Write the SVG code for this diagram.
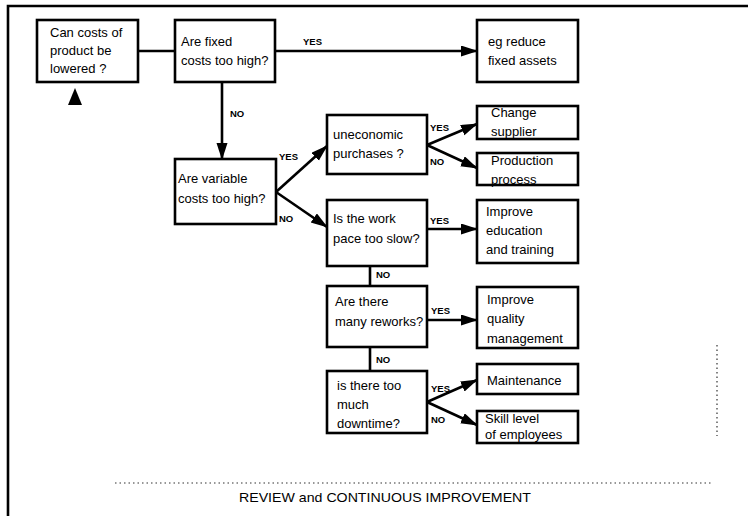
<svg xmlns="http://www.w3.org/2000/svg" width="748" height="516" viewBox="0 0 748 516">
  <style>
    .box { fill: #fff; stroke: #000; stroke-width: 2.6; }
    .t { font-family: "Liberation Sans", "DejaVu Sans", sans-serif; font-size: 13px; fill: #000; }
    .lbl { font-family: "Liberation Sans", "DejaVu Sans", sans-serif; font-size: 9.5px; font-weight: bold; fill: #000; }
    .ln { fill: none; stroke: #000; stroke-width: 2.6; }
    .arr { fill: none; stroke: #000; stroke-width: 2.6; marker-end: url(#head); }
    .dots { fill: none; stroke: #333; stroke-width: 1.2; stroke-dasharray: 1.5 3; }
    .title { font-family: "Liberation Sans", "DejaVu Sans", sans-serif; font-size: 13.5px; fill: #000; }
  </style>
  <defs>
    <marker id="head" markerUnits="userSpaceOnUse" markerWidth="18" markerHeight="12" refX="16" refY="5.5" orient="auto">
      <path d="M0,0 L17,5.5 L0,11 z" fill="#000"/>
    </marker>
  </defs>
  <rect width="748" height="516" fill="#fff"/>

  <!-- outer frame and faded review line -->
  <g id="frame">
    <path class="ln" d="M8,516 L8,6 L748,6"/>
    <path class="dots" d="M115,483 L712,483"/>
    <path class="dots" d="M717,345 L717,436"/>
  </g>

  <!-- connectors and their YES / NO labels -->
  <g id="connectors">
    <path class="ln" d="M138,51 L175,51"/>
    <path class="arr" d="M275,51 L477,51"/>
    <path class="arr" d="M222,82 L222,159"/>
    <path class="arr" d="M276,192 L327,146"/>
    <path class="arr" d="M276,192 L327,227"/>
    <path class="arr" d="M427,145 L477,124"/>
    <path class="arr" d="M427,145 L477,168"/>
    <path class="arr" d="M427,229 L477,229"/>
    <path class="ln" d="M370,266 L370,286"/>
    <path class="arr" d="M427,320 L477,320"/>
    <path class="ln" d="M370,347 L370,371"/>
    <path class="arr" d="M427,402 L477,380"/>
    <path class="arr" d="M427,402 L477,425"/>
    <path d="M75,88 L82,105 L68,105 z" fill="#000"/>
    <text class="lbl" x="303" y="45">YES</text>
    <text class="lbl" x="230" y="117">NO</text>
    <text class="lbl" x="279" y="160">YES</text>
    <text class="lbl" x="279" y="222">NO</text>
    <text class="lbl" x="430" y="131">YES</text>
    <text class="lbl" x="430" y="165">NO</text>
    <text class="lbl" x="430" y="224">YES</text>
    <text class="lbl" x="376" y="278">NO</text>
    <text class="lbl" x="431" y="314">YES</text>
    <text class="lbl" x="376" y="363">NO</text>
    <text class="lbl" x="431" y="392">YES</text>
    <text class="lbl" x="431" y="423">NO</text>
  </g>

  <g id="n-lowered">
    <rect class="box" x="37" y="20" width="101" height="62"/>
    <text class="t" x="50" y="37">Can costs of</text>
    <text class="t" x="50" y="55">product be</text>
    <text class="t" x="50" y="73">lowered ?</text>
  </g>
  <g id="n-fixed">
    <rect class="box" x="175" y="20" width="100" height="62"/>
    <text class="t" x="181" y="46">Are fixed</text>
    <text class="t" x="181" y="65">costs too high?</text>
  </g>
  <g id="n-assets">
    <rect class="box" x="477" y="20" width="101" height="62"/>
    <text class="t" x="488" y="46">eg reduce</text>
    <text class="t" x="488" y="65">fixed assets</text>
  </g>
  <g id="n-variable">
    <rect class="box" x="175" y="159" width="101" height="65"/>
    <text class="t" x="178" y="183">Are variable</text>
    <text class="t" x="178" y="203">costs too high?</text>
  </g>
  <g id="n-purchases">
    <rect class="box" x="327" y="115" width="100" height="59"/>
    <text class="t" x="333" y="139">uneconomic</text>
    <text class="t" x="333" y="158">purchases ?</text>
  </g>
  <g id="n-pace">
    <rect class="box" x="327" y="200" width="100" height="66"/>
    <text class="t" x="333" y="223">Is the work</text>
    <text class="t" x="333" y="243">pace too slow?</text>
  </g>
  <g id="n-supplier">
    <rect class="box" x="477" y="106" width="101" height="33"/>
    <text class="t" x="491" y="117">Change</text>
    <text class="t" x="491" y="136">supplier</text>
  </g>
  <g id="n-process">
    <rect class="box" x="477" y="153" width="101" height="32"/>
    <text class="t" x="491" y="165">Production</text>
    <text class="t" x="491" y="184">process</text>
  </g>
  <g id="n-training">
    <rect class="box" x="477" y="200" width="101" height="63"/>
    <text class="t" x="486" y="216">Improve</text>
    <text class="t" x="486" y="235">education</text>
    <text class="t" x="486" y="254">and training</text>
  </g>
  <g id="n-reworks">
    <rect class="box" x="327" y="286" width="100" height="61"/>
    <text class="t" x="335" y="306">Are there</text>
    <text class="t" x="335" y="326">many reworks?</text>
  </g>
  <g id="n-quality">
    <rect class="box" x="477" y="287" width="101" height="61"/>
    <text class="t" x="487" y="304">Improve</text>
    <text class="t" x="487" y="323">quality</text>
    <text class="t" x="487" y="343">management</text>
  </g>
  <g id="n-downtime">
    <rect class="box" x="327" y="371" width="100" height="62"/>
    <text class="t" x="337" y="390">is there too</text>
    <text class="t" x="337" y="409">much</text>
    <text class="t" x="337" y="428">downtime?</text>
  </g>
  <g id="n-maintenance">
    <rect class="box" x="477" y="364" width="101" height="30"/>
    <text class="t" x="487" y="385">Maintenance</text>
  </g>
  <g id="n-skill">
    <rect class="box" x="477" y="411" width="101" height="32"/>
    <text class="t" x="485" y="423">Skill level</text>
    <text class="t" x="485" y="439">of employees</text>
  </g>

  <text class="title" x="385" y="502" text-anchor="middle" textLength="292" lengthAdjust="spacingAndGlyphs">REVIEW and CONTINUOUS IMPROVEMENT</text>
</svg>
